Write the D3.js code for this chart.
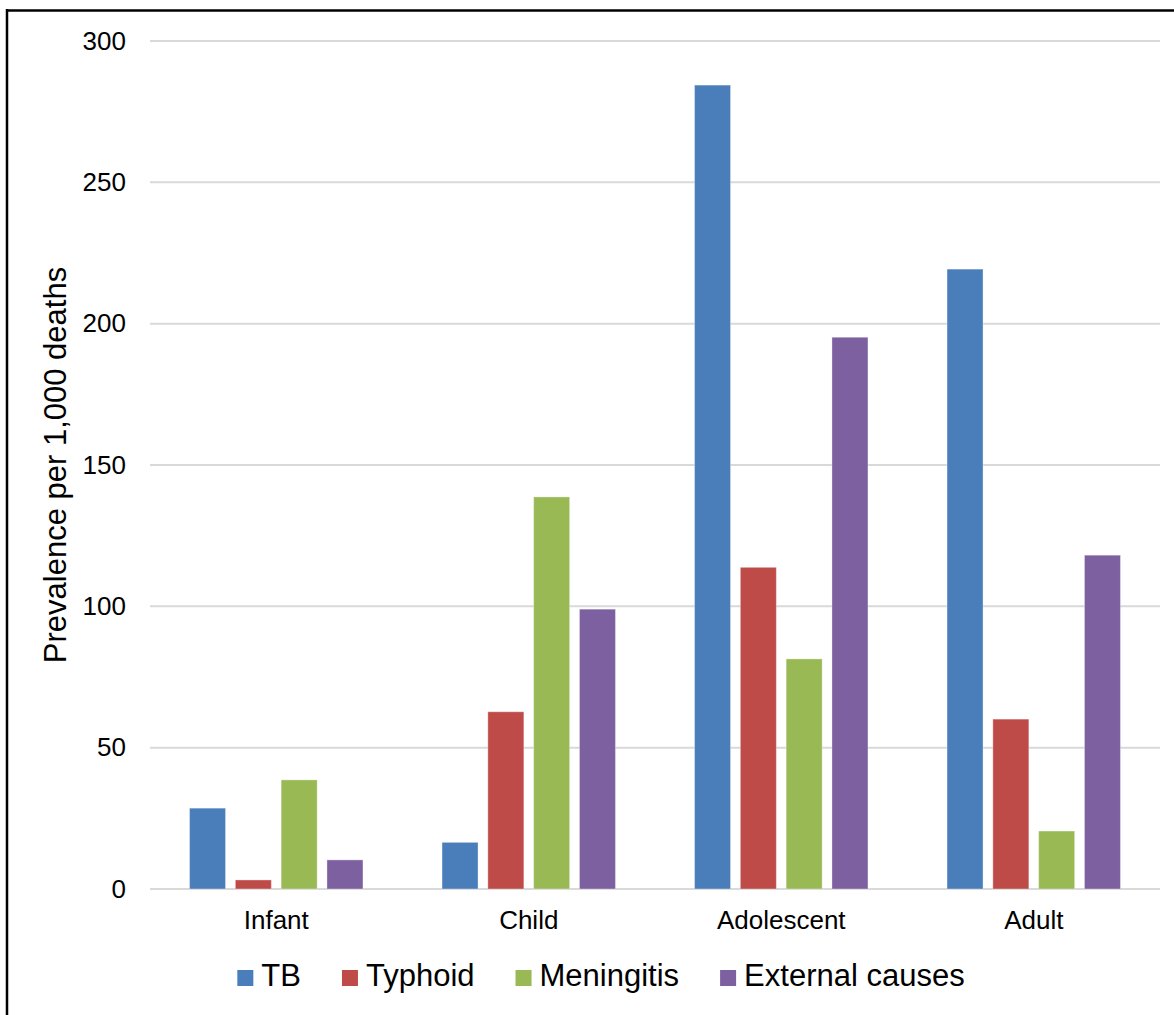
<!DOCTYPE html>
<html>
<head>
<meta charset="utf-8">
<script src="https://cdn.jsdelivr.net/npm/d3@7"></script>
<style>
  html, body { margin: 0; padding: 0; background: #fff; }
  svg { display: block; font-family: "Liberation Sans", Arial, sans-serif; }
</style>
</head>
<body>
<script>
// Age groups along the x axis
const categories = ["Infant", "Child", "Adolescent", "Adult"];
// Cause-of-death series (prevalence per 1,000 deaths)
const seriesNames = ["TB", "Typhoid", "Meningitis", "External causes"];
const tbValues = [28.6, 16.5, 284.4, 219.3];
const typhoidValues = [3.2, 62.7, 113.8, 60.1];
const meningitisValues = [38.6, 138.7, 81.4, 20.5];
const externalValues = [10.3, 99.0, 195.2, 118.1];
const yTicks = [0, 50, 100, 150, 200, 250, 300];
const seriesColors = ["#4A7EBB", "#BE4B48", "#98B954", "#7D60A0"];

const seriesValues = [tbValues, typhoidValues, meningitisValues, externalValues];

const W = 1174, H = 1015;
const svg = d3.select("body").append("svg").attr("width", W).attr("height", H);

// frame edges
svg.append("line").attr("x1", 7).attr("x2", W).attr("y1", 10.5).attr("y2", 10.5)
  .attr("stroke", "#000").attr("stroke-width", 2.5);
svg.append("line").attr("x1", 7).attr("x2", 7).attr("y1", 9).attr("y2", H)
  .attr("stroke", "#000").attr("stroke-width", 2.5);

const plot = { left: 150, right: 1160, top: 41, bottom: 889 };

const x0 = d3.scaleBand().domain(categories).range([plot.left, plot.right]).padding(0);
const x1 = d3.scaleBand().domain(seriesNames).range([0, x0.bandwidth()])
  .paddingInner(0.214).paddingOuter(0.863);
const y = d3.scaleLinear().domain([0, 300]).range([plot.bottom, plot.top]);

// horizontal gridlines
svg.append("g").selectAll("line").data(yTicks).join("line")
  .attr("x1", plot.left).attr("x2", plot.right)
  .attr("y1", d => y(d)).attr("y2", d => y(d))
  .attr("stroke", "#d9d9d9").attr("stroke-width", 2);

// y axis tick labels
const yAxis = d3.axisLeft(y).tickValues(yTicks).tickSize(0).tickPadding(0);
const gy = svg.append("g").attr("transform", `translate(126,0)`).call(yAxis);
gy.select(".domain").remove();
gy.selectAll("text").attr("font-size", 26).attr("fill", "#000")
  .attr("font-family", "Liberation Sans, Arial, sans-serif");

// bars
const groups = svg.append("g").selectAll("g").data(categories).join("g")
  .attr("transform", d => `translate(${x0(d)},0)`);
groups.selectAll("rect")
  .data((c, ci) => seriesNames.map((s, si) => ({ s, si, v: seriesValues[si][ci] })))
  .join("rect")
  .attr("x", d => x1(d.s))
  .attr("width", x1.bandwidth())
  .attr("y", d => y(d.v))
  .attr("height", d => y(0) - y(d.v))
  .attr("fill", d => seriesColors[d.si])
  .attr("stroke", "rgba(255,255,255,0.35)")
  .attr("stroke-width", 1);

// category labels
const xAxis = d3.axisBottom(x0).tickSize(0).tickPadding(0);
const gx = svg.append("g").attr("transform", `translate(0,${plot.bottom})`).call(xAxis);
gx.select(".domain").remove();
gx.selectAll("text").attr("font-size", 26).attr("fill", "#000")
  .attr("dy", 0).attr("y", 40)
  .attr("font-family", "Liberation Sans, Arial, sans-serif");

// y axis title
svg.append("text")
  .attr("transform", `translate(66,${(plot.top + plot.bottom) / 2}) rotate(-90)`)
  .attr("text-anchor", "middle")
  .attr("font-size", 31)
  .attr("fill", "#000")
  .text("Prevalence per 1,000 deaths");

// legend
const legend = svg.append("g");
const sq = 16, textGap = 8, itemGap = 41;
let cx = 0;
seriesNames.forEach((name, i) => {
  const g = legend.append("g");
  g.append("rect").attr("x", 0).attr("y", -16).attr("width", sq).attr("height", sq)
    .attr("fill", seriesColors[i]);
  const t = g.append("text").attr("x", sq + textGap).attr("y", 0)
    .attr("font-size", 31).attr("fill", "#000").text(name);
  const w = sq + textGap + t.node().getComputedTextLength();
  g.attr("transform", `translate(${cx},0)`);
  cx += w + itemGap;
});
const totalW = cx - itemGap;
legend.attr("transform", `translate(${601 - totalW / 2},986)`);
</script>
</body>
</html>
